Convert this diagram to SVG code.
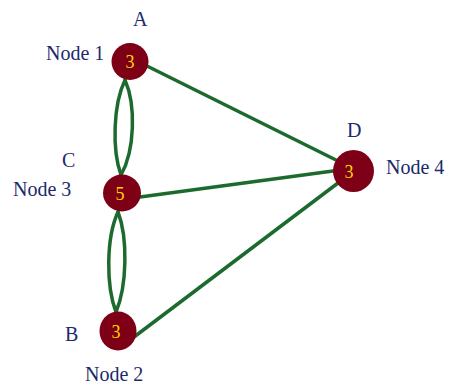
<svg xmlns="http://www.w3.org/2000/svg" width="451" height="385" viewBox="0 0 451 385">
  <style>
    .edge { fill: none; stroke: #1d6a2f; stroke-width: 3.5; stroke-linecap: round; }
    .node { fill: #7d0016; }
    .num { font-family: "Liberation Serif", serif; font-size: 18px; fill: #ffd400; text-anchor: middle; }
    .lbl { font-family: "Liberation Serif", serif; font-size: 20px; fill: #1c2a6b; }
  </style>
  <rect width="451" height="385" fill="#ffffff"/>
  <g id="connectors">
    <path class="edge" d="M125 80 C113 105 112 150 121 175"/>
    <path class="edge" d="M125 80 C136 105 135 150 121 175"/>
    <path class="edge" d="M118 212 C106 238 106 286 116 312"/>
    <path class="edge" d="M118 212 C128 238 127 286 116 312"/>
    <line class="edge" x1="147" y1="66" x2="336" y2="160"/>
    <line class="edge" x1="140" y1="197" x2="333" y2="171"/>
    <line class="edge" x1="134" y1="337" x2="338" y2="183"/>
  </g>
  <g id="node1">
    <ellipse class="node" cx="130" cy="61.5" rx="18.5" ry="18.5"/>
    <text class="num" x="130" y="68">3</text>
    <text class="lbl" x="133" y="26">A</text>
    <text class="lbl" x="46" y="60">Node 1</text>
  </g>
  <g id="node3">
    <ellipse class="node" cx="122" cy="193" rx="19" ry="18.5"/>
    <text class="num" x="120" y="199.5">5</text>
    <text class="lbl" x="62" y="167">C</text>
    <text class="lbl" x="13" y="196">Node 3</text>
  </g>
  <g id="node2">
    <ellipse class="node" cx="118" cy="331" rx="18.5" ry="19.5"/>
    <text class="num" x="116" y="337.5">3</text>
    <text class="lbl" x="65" y="341">B</text>
    <text class="lbl" x="85" y="381">Node 2</text>
  </g>
  <g id="node4">
    <ellipse class="node" cx="353.5" cy="171" rx="20.5" ry="21"/>
    <text class="num" x="349" y="178">3</text>
    <text class="lbl" x="347" y="137">D</text>
    <text class="lbl" x="386" y="174">Node 4</text>
  </g>
</svg>
